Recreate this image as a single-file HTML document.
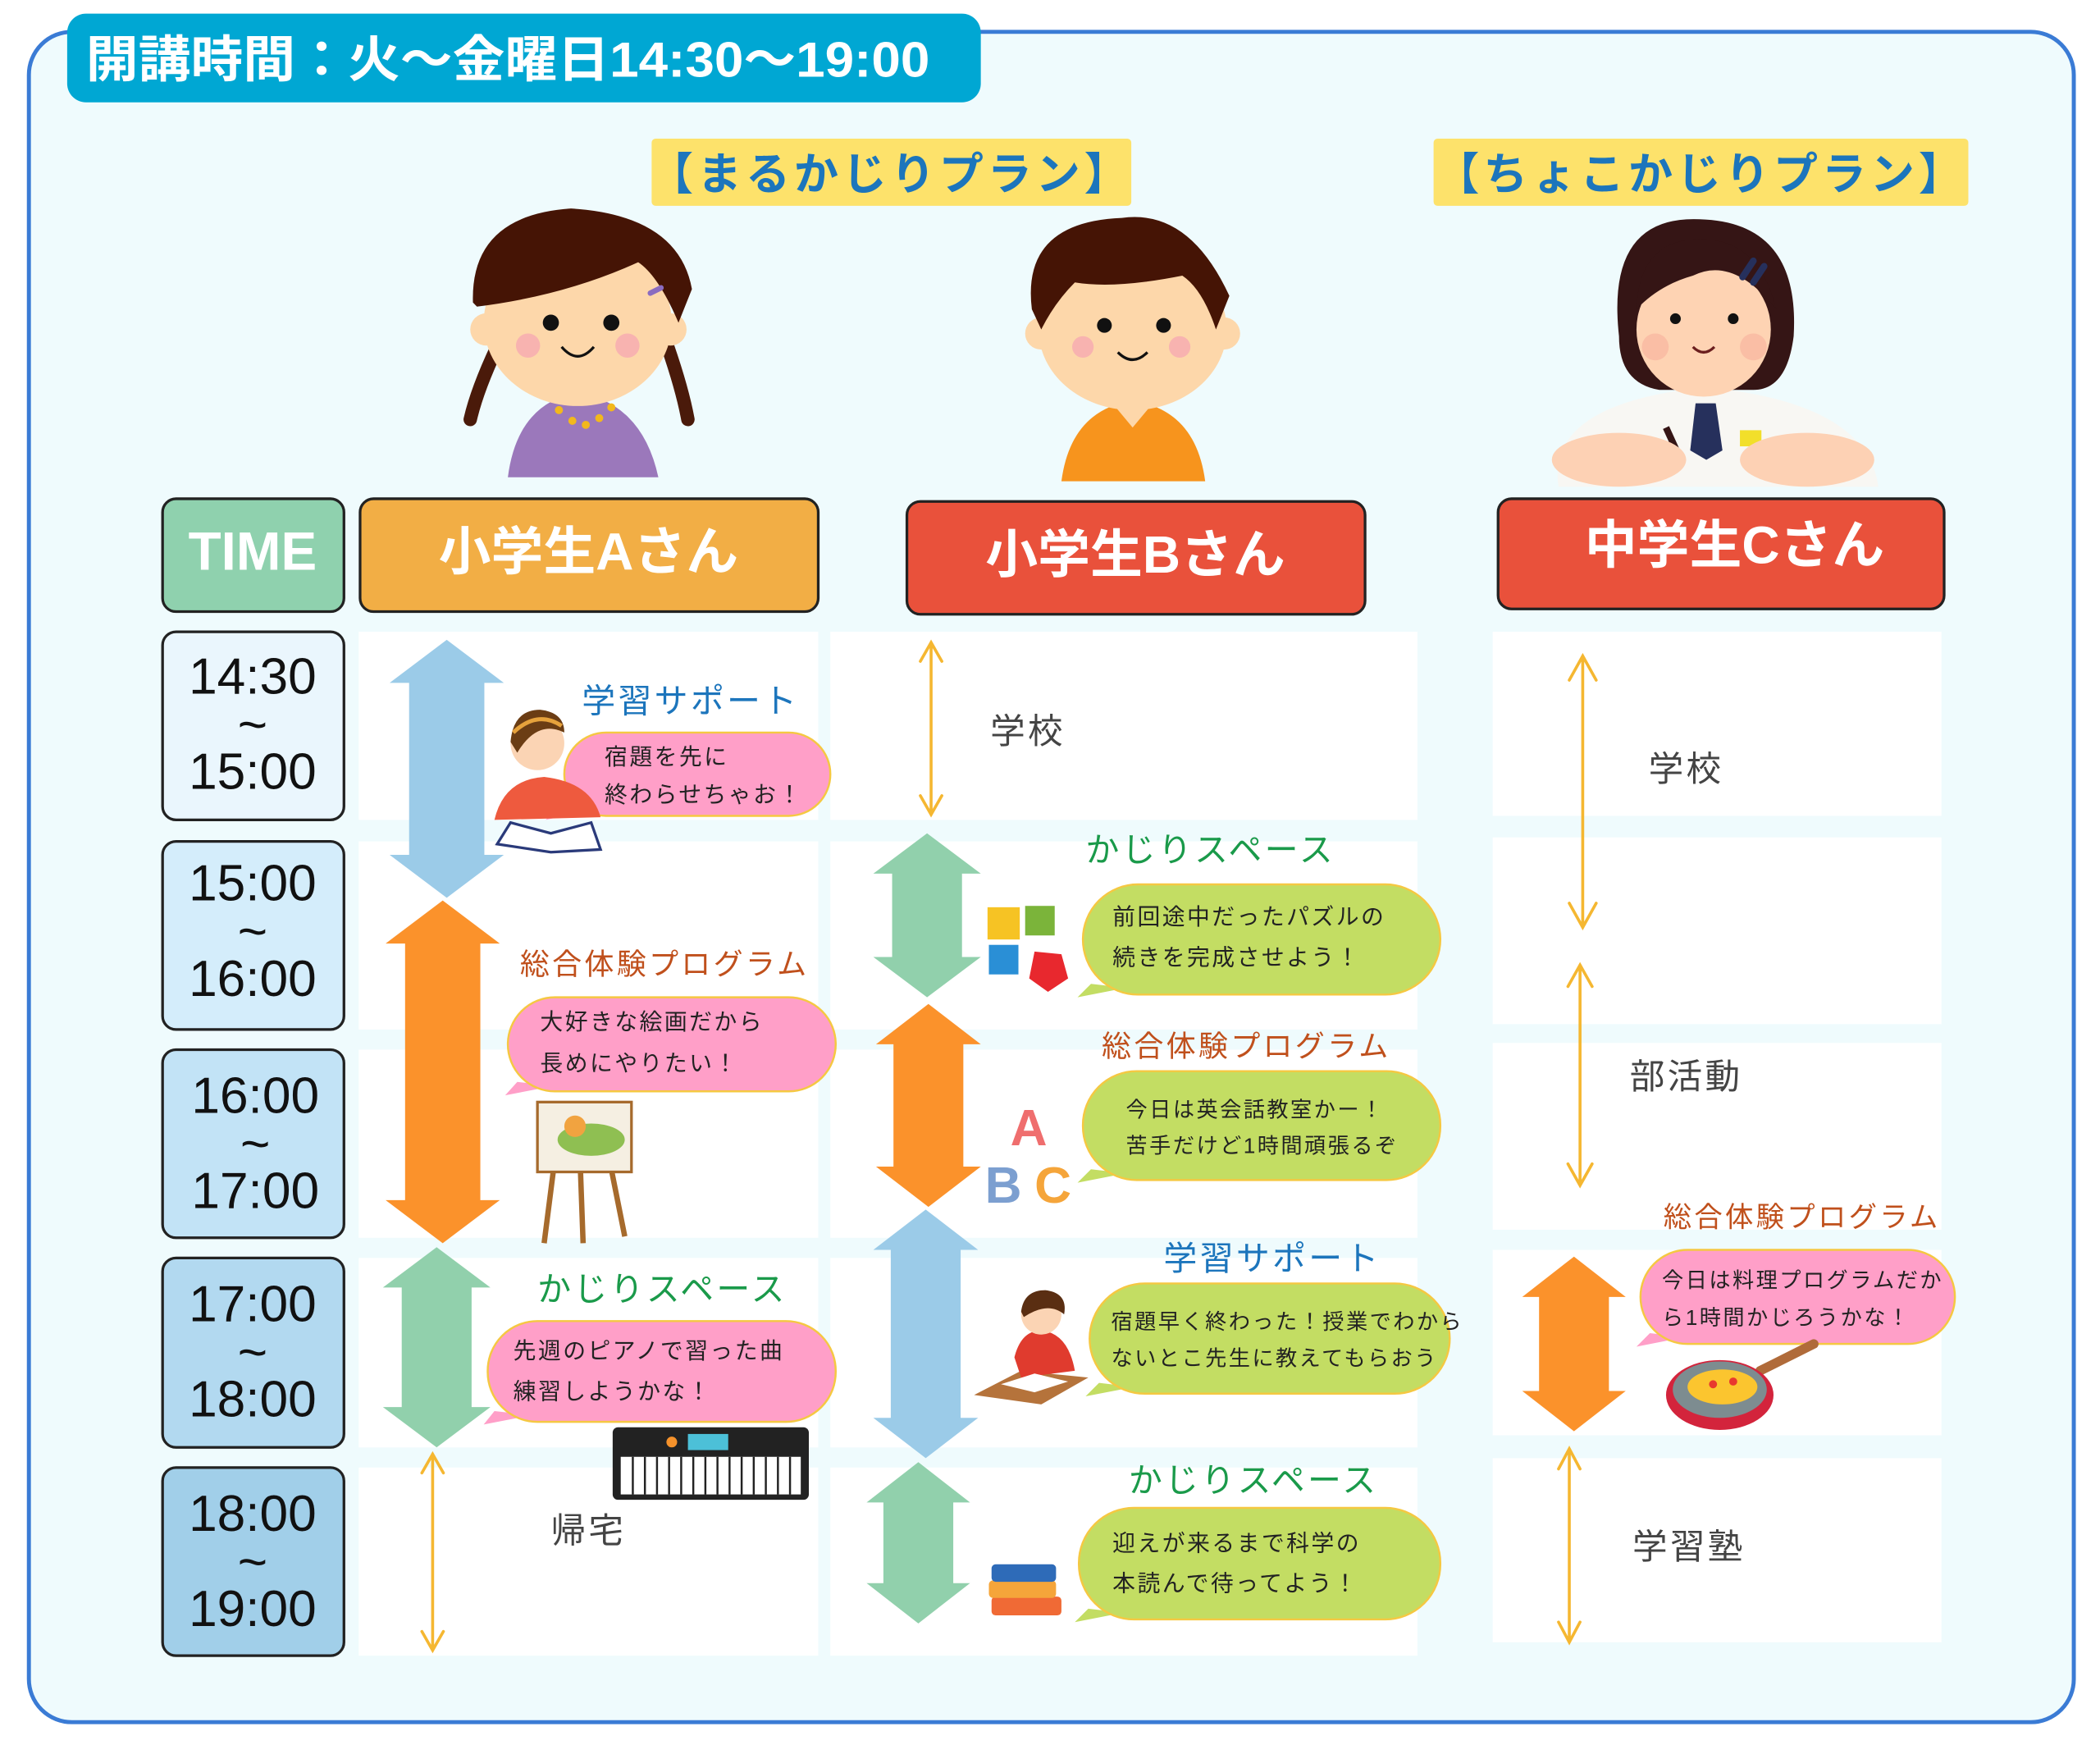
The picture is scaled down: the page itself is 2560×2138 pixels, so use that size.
<!DOCTYPE html>
<html><head><meta charset="utf-8"><style>
html,body{margin:0;padding:0;background:#fff;}
svg{display:block;}
text{font-family:"Liberation Sans","Noto Sans CJK JP",sans-serif;}
</style></head><body>
<svg width="2560" height="2138" viewBox="0 0 1563 1305" xmlns="http://www.w3.org/2000/svg">
<rect width="1563" height="1305" fill="#fff"/>
<rect x="21.5" y="23.5" width="1522" height="1258" rx="32" fill="#effbfd" stroke="#3a7bd5" stroke-width="3"/>
<!-- title -->
<rect x="50" y="10" width="680" height="66" rx="14" fill="#00a7d3"/>
<text x="64" y="57" font-size="37" font-weight="bold" fill="#fff" textLength="628" lengthAdjust="spacingAndGlyphs">開講時間：火〜金曜日14:30〜19:00</text>
<!-- plan labels -->
<rect x="485" y="103" width="357" height="50" rx="3" fill="#fde26b"/>
<text x="663" y="141" font-size="33" font-weight="bold" fill="#1c75bc" text-anchor="middle" letter-spacing="3">【まるかじりプラン】</text>
<rect x="1067" y="103" width="398" height="50" rx="3" fill="#fde26b"/>
<text x="1266" y="141" font-size="33" font-weight="bold" fill="#1c75bc" text-anchor="middle" letter-spacing="3">【ちょこかじりプラン】</text>

<!-- girl A -->
<g>
<path d="M378 355 Q385 300 430 292 Q478 300 490 355 Z" fill="#9b78bb"/>
<circle cx="416" cy="305" r="3" fill="#f2b81c"/><circle cx="426" cy="313" r="3" fill="#f2b81c"/><circle cx="436" cy="316" r="3" fill="#f2b81c"/><circle cx="446" cy="311" r="3" fill="#f2b81c"/><circle cx="455" cy="303" r="3" fill="#f2b81c"/>
<path d="M370 258 Q355 290 350 312" stroke="#4a1a0a" stroke-width="10" fill="none" stroke-linecap="round"/>
<path d="M497 258 Q508 290 512 312" stroke="#4a1a0a" stroke-width="10" fill="none" stroke-linecap="round"/>
<ellipse cx="430" cy="240" rx="70" ry="62" fill="#fdd7aa"/>
<circle cx="362" cy="245" r="12" fill="#fdd7aa"/><circle cx="499" cy="245" r="12" fill="#fdd7aa"/>
<path d="M352 225 Q350 160 425 155 Q505 160 515 215 L505 240 Q490 205 475 195 Q420 220 355 228 Z" fill="#451405"/>
<circle cx="410" cy="240" r="6" fill="#111"/><circle cx="455" cy="240" r="6" fill="#111"/>
<circle cx="393" cy="257" r="9" fill="#f8b3b0"/><circle cx="467" cy="257" r="9" fill="#f8b3b0"/>
<path d="M418 258 Q430 272 442 258" stroke="#111" stroke-width="2" fill="none"/>
<path d="M484 218 l8 -4" stroke="#8b6cc0" stroke-width="4" stroke-linecap="round"/>
</g>
<!-- boy B -->
<g>
<path d="M790 358 Q797 305 843 298 Q890 305 897 358 Z" fill="#f7941d"/>
<path d="M828 300 L843 318 L858 300 Z" fill="#fdd7aa"/>
<ellipse cx="843" cy="245" rx="70" ry="60" fill="#fdd7aa"/>
<circle cx="775" cy="248" r="12" fill="#fdd7aa"/><circle cx="911" cy="248" r="12" fill="#fdd7aa"/>
<path d="M768 230 Q760 165 835 162 Q885 155 915 220 L905 245 Q895 215 880 205 Q830 215 800 210 Q785 225 775 245 Z" fill="#451405"/>
<circle cx="822" cy="242" r="5.5" fill="#111"/><circle cx="866" cy="242" r="5.5" fill="#111"/>
<circle cx="806" cy="258" r="8" fill="#f8b3b0"/><circle cx="878" cy="258" r="8" fill="#f8b3b0"/>
<path d="M832 262 Q843 273 854 262" stroke="#111" stroke-width="2" fill="none"/>
</g>
<!-- girl C -->
<g>
<path d="M1160 362 Q1150 300 1270 288 Q1390 300 1398 362 Z" fill="#f8f7f3"/>
<path d="M1262 300 L1277 300 L1282 335 L1270 342 L1258 335 Z" fill="#26305c"/>
<rect x="1295" y="320" width="16" height="12" fill="#f2df2a"/>
<path d="M1240 318 L1250 340" stroke="#351515" stroke-width="5"/>
<ellipse cx="1205" cy="342" rx="50" ry="20" fill="#fdd1b4"/><ellipse cx="1345" cy="342" rx="50" ry="20" fill="#fdd1b4"/>
<path d="M1205 250 Q1195 160 1265 163 Q1340 165 1335 250 Q1330 290 1305 290 L1235 290 Q1205 285 1205 250 Z" fill="#351515"/>
<ellipse cx="1268" cy="245" rx="50" ry="50" fill="#fed3b3"/>
<path d="M1218 230 Q1220 175 1270 178 Q1310 180 1322 230 Q1290 190 1260 205 Q1235 212 1218 230 Z" fill="#351515"/>
<circle cx="1247" cy="237" r="4" fill="#111"/><circle cx="1290" cy="237" r="4" fill="#111"/>
<circle cx="1232" cy="258" r="10" fill="#f8b5a0" opacity=".7"/><circle cx="1305" cy="258" r="10" fill="#f8b5a0" opacity=".7"/>
<path d="M1260 258 Q1268 266 1276 258" stroke="#6b1e1e" stroke-width="2" fill="none"/>
<path d="M1297 206 l8 -12 M1305 210 l8 -12" stroke="#26305c" stroke-width="5" stroke-linecap="round"/>
</g>

<!-- headers -->
<rect x="121" y="371" width="135" height="84" rx="10" fill="#8fd1ae" stroke="#222" stroke-width="2"/>
<text x="188" y="424" font-size="40" font-weight="bold" fill="#fff" text-anchor="middle">TIME</text>
<rect x="268" y="371" width="341" height="84" rx="10" fill="#f2ae45" stroke="#222" stroke-width="2"/>
<text x="438" y="424" font-size="39" font-weight="bold" fill="#fff" text-anchor="middle">小学生Aさん</text>
<rect x="675" y="373" width="341" height="84" rx="10" fill="#e9513b" stroke="#222" stroke-width="2"/>
<text x="845" y="426" font-size="39" font-weight="bold" fill="#fff" text-anchor="middle">小学生Bさん</text>
<rect x="1115" y="371" width="332" height="82" rx="10" fill="#e9513b" stroke="#222" stroke-width="2"/>
<text x="1291" y="419" font-size="39" font-weight="bold" fill="#fff" text-anchor="middle">中学生Cさん</text>

<!-- time cells -->
<g stroke="#222" stroke-width="2">
<rect x="121" y="470" width="135" height="140" rx="10" fill="#eaf6fd"/>
<rect x="121" y="626" width="135" height="140" rx="10" fill="#d4edfb"/>
<rect x="121" y="781" width="135" height="140" rx="10" fill="#c2e3f6"/>
<rect x="121" y="936" width="135" height="141" rx="10" fill="#b2d9f0"/>
<rect x="121" y="1092" width="135" height="140" rx="10" fill="#a1cfe9"/>
</g>
<g font-size="38" fill="#111" text-anchor="middle">
<text x="188" y="516">14:30</text><text x="188" y="552">~</text><text x="188" y="587">15:00</text>
<text x="188" y="670">15:00</text><text x="188" y="706">~</text><text x="188" y="741">16:00</text>
<text x="190" y="828">16:00</text><text x="190" y="864">~</text><text x="190" y="899">17:00</text>
<text x="188" y="983">17:00</text><text x="188" y="1019">~</text><text x="188" y="1054">18:00</text>
<text x="188" y="1139">18:00</text><text x="188" y="1175">~</text><text x="188" y="1210">19:00</text>
</g>

<!-- white cells -->
<g fill="#fff">
<rect x="267" y="470" width="342" height="140"/><rect x="267" y="626" width="342" height="140"/><rect x="267" y="781" width="342" height="140"/><rect x="267" y="936" width="342" height="141"/><rect x="267" y="1092" width="342" height="140"/>
<rect x="618" y="470" width="437" height="140"/><rect x="618" y="626" width="437" height="140"/><rect x="618" y="781" width="437" height="140"/><rect x="618" y="936" width="437" height="141"/><rect x="618" y="1092" width="437" height="140"/>
<rect x="1111" y="470" width="334" height="137"/><rect x="1111" y="623" width="334" height="139"/><rect x="1111" y="776" width="334" height="139"/><rect x="1111" y="930" width="334" height="138"/><rect x="1111" y="1085" width="334" height="137"/>
</g>

<!-- thick arrows -->
<polygon fill="#9bcbe8" points="332.5,476 375,508 360.5,508 360.5,636 375,636 332.5,668 290,636 304.5,636 304.5,508 290,508"/>
<polygon fill="#fb922b" points="329.5,670 372,702 357.5,702 357.5,893 372,893 329.5,925 287,893 301.5,893 301.5,702 287,702"/>
<polygon fill="#91d0ac" points="325,928 365,958 351,958 351,1047 365,1047 325,1077 285,1047 299,1047 299,958 285,958"/>
<polygon fill="#91d0ac" points="690,620 730,650 716,650 716,712 730,712 690,742 650,712 664,712 664,650 650,650"/>
<polygon fill="#fb922b" points="691,747 730,777 717,777 717,868 730,868 691,898 652,868 665,868 665,777 652,777"/>
<polygon fill="#9bcbe8" points="689,900 728,930 715,930 715,1055 728,1055 689,1085 650,1055 663,1055 663,930 650,930"/>
<polygon fill="#91d0ac" points="683.5,1088 722,1118 709.5,1118 709.5,1178 722,1178 683.5,1208 645,1178 657.5,1178 657.5,1118 645,1118"/>
<polygon fill="#fb922b" points="1171.5,935 1210,965 1197.5,965 1197.5,1035 1210,1035 1171.5,1065 1133,1035 1145.5,1035 1145.5,965 1133,965"/>

<!-- thin arrows -->
<g stroke="#f5b731" stroke-width="2.2" fill="none" stroke-linecap="round">
<path d="M322 1082 V1228 M314 1096 L322 1082 L330 1096 M314 1214 L322 1228 L330 1214"/>
<path d="M693 478 V606 M685 492 L693 478 L701 492 M685 592 L693 606 L701 592"/>
<path d="M1178 488 V690 M1168 506 L1178 488 L1188 506 M1168 672 L1178 690 L1188 672"/>
<path d="M1176 718 V882 M1167 734 L1176 718 L1185 734 M1167 866 L1176 882 L1185 866"/>
<path d="M1168 1078 V1222 M1160 1093 L1168 1078 L1176 1093 M1160 1207 L1168 1222 L1176 1207"/>
</g>

<!-- section labels -->
<g font-size="25" letter-spacing="2">
<text x="433" y="530" fill="#1c75bc">学習サポート</text>
<text x="387" y="725" fill="#c0501c" font-size="22">総合体験プログラム</text>
<text x="400" y="968" fill="#1a9a4a">かじりスペース</text>
<text x="808" y="641" fill="#1a9a4a">かじりスペース</text>
<text x="820" y="786" fill="#c0501c" font-size="22">総合体験プログラム</text>
<text x="866" y="945" fill="#1c75bc">学習サポート</text>
<text x="840" y="1110" fill="#1a9a4a">かじりスペース</text>
<text x="1238" y="913" fill="#c0501c" font-size="21">総合体験プログラム</text>
</g>
<g font-size="26" fill="#444" letter-spacing="2">
<text x="410" y="1148">帰宅</text>
<text x="737" y="553">学校</text>
<text x="1227" y="581">学校</text>
<text x="1213" y="810">部活動</text>
<text x="1215" y="1160">学習塾</text>
</g>

<!-- bubbles -->
<g stroke="#f5c842" stroke-width="1.5">
<path d="M418 600 L406 610 L440 603 Z" fill="#ff9fc8" stroke="none"/>
<rect x="420" y="545" width="198" height="62" rx="31" fill="#ff9fc8"/>
<path d="M385 805 L376 815 L412 808 Z" fill="#ff9fc8" stroke="none"/>
<rect x="378" y="742" width="244" height="70" rx="35" fill="#ff9fc8"/>
<path d="M368 1050 L360 1060 L396 1053 Z" fill="#ff9fc8" stroke="none"/>
<rect x="363" y="983" width="259" height="75" rx="37" fill="#ff9fc8"/>
<path d="M812 732 L802 742 L838 735 Z" fill="#c3dd63" stroke="none"/>
<rect x="806" y="658" width="266" height="82" rx="41" fill="#c3dd63"/>
<path d="M812 870 L802 880 L838 873 Z" fill="#c3dd63" stroke="none"/>
<rect x="806" y="797" width="266" height="81" rx="40" fill="#c3dd63"/>
<path d="M818 1029 L808 1039 L844 1032 Z" fill="#c3dd63" stroke="none"/>
<rect x="811" y="955" width="268" height="82" rx="41" fill="#c3dd63"/>
<path d="M810 1197 L800 1207 L836 1200 Z" fill="#c3dd63" stroke="none"/>
<rect x="803" y="1122" width="269" height="83" rx="41" fill="#c3dd63"/>
<path d="M1228 992 L1218 1002 L1254 995 Z" fill="#ff9fc8" stroke="none"/>
<rect x="1221" y="930" width="234" height="70" rx="35" fill="#ff9fc8"/>
</g>
<g font-size="17" fill="#222" letter-spacing="1.5">
<text x="450" y="569">宿題を先に</text><text x="450" y="597">終わらせちゃお！</text>
<text x="402" y="766">大好きな絵画だから</text><text x="402" y="797">長めにやりたい！</text>
<text x="382" y="1011">先週のピアノで習った曲</text><text x="382" y="1041">練習しようかな！</text>
<text x="828" y="688">前回途中だったパズルの</text><text x="828" y="718">続きを完成させよう！</text>
<text x="838" y="831" font-size="16">今日は英会話教室かー！</text><text x="838" y="858" font-size="16">苦手だけど1時間頑張るぞ</text>
<text x="827" y="989" font-size="16">宿題早く終わった！授業でわから</text><text x="827" y="1016" font-size="16">ないとこ先生に教えてもらおう</text>
<text x="828" y="1154">迎えが来るまで科学の</text><text x="828" y="1184">本読んで待ってよう！</text>
<text x="1237" y="958" font-size="16">今日は料理プログラムだか</text><text x="1237" y="986" font-size="16">ら1時間かじろうかな！</text>
</g>

<!-- small icons -->
<g>
<path d="M368 610 Q375 580 405 578 Q440 582 447 608 Z" fill="#ee5a3e"/>
<circle cx="400" cy="553" r="20" fill="#fbd4b4"/>
<path d="M380 552 Q382 528 402 528 Q420 530 420 545 Q400 535 385 560 Z" fill="#6b3d14"/>
<path d="M382 545 Q400 528 418 540" stroke="#e6a23c" stroke-width="3" fill="none"/>
<path d="M370 628 L380 612 L410 620 L440 612 L447 632 L410 634 Z" fill="#fff" stroke="#2a3a7a" stroke-width="2"/>
</g>
<g>
<path d="M412 870 L405 925 M455 870 L465 920 M432 870 L434 925" stroke="#a66a2c" stroke-width="4"/>
<rect x="400" y="820" width="70" height="52" fill="#f5efe2" stroke="#a66a2c" stroke-width="2"/>
<ellipse cx="440" cy="848" rx="25" ry="12" fill="#8fbf52"/>
<circle cx="428" cy="838" r="8" fill="#f1a340"/>
</g>
<g>
<rect x="456" y="1062" width="146" height="54" rx="4" fill="#222"/>
<rect x="462" y="1084" width="134" height="28" fill="#fff"/>
<g stroke="#222" stroke-width="1.5"><path d="M471 1084v28M480 1084v28M489 1084v28M498 1084v28M507 1084v28M516 1084v28M525 1084v28M534 1084v28M543 1084v28M552 1084v28M561 1084v28M570 1084v28M579 1084v28M588 1084v28"/></g>
<rect x="512" y="1067" width="30" height="12" fill="#4cc0d8"/>
<circle cx="500" cy="1073" r="4" fill="#f5922b"/>
</g>
<g>
<rect x="735" y="675" width="24" height="24" fill="#f6c324"/>
<rect x="763" y="674" width="22" height="22" fill="#7bb43a"/>
<rect x="736" y="703" width="22" height="22" fill="#2a8fd6"/>
<polygon points="770,708 790,710 795,728 780,738 766,728" fill="#e8282e"/>
</g>
<g font-size="38" font-weight="bold">
<text x="752" y="852" fill="#ef6e6e">A</text>
<text x="733" y="895" fill="#7c9fd0">B</text>
<text x="770" y="895" fill="#f5a53a">C</text>
</g>
<g>
<path d="M725 1038 L760 1020 L810 1025 L775 1045 Z" fill="#b5733b"/>
<path d="M755 1010 Q760 990 775 990 Q795 992 800 1020 L760 1025 Z" fill="#e03b2e"/>
<circle cx="775" cy="978" r="15" fill="#fbd4b4"/>
<path d="M760 976 Q762 960 778 960 Q795 962 792 978 Q780 968 762 980 Z" fill="#5a2e12"/>
<path d="M745 1030 L770 1022 L795 1028 L770 1036 Z" fill="#fff"/>
</g>
<g>
<rect x="738" y="1188" width="52" height="14" rx="3" fill="#f06a35"/>
<rect x="736" y="1176" width="50" height="13" rx="3" fill="#f5a53a"/>
<rect x="738" y="1164" width="48" height="13" rx="3" fill="#2e6bb8"/>
</g>
<g>
<path d="M1310 1020 L1350 1000" stroke="#b06b3a" stroke-width="7" stroke-linecap="round"/>
<ellipse cx="1280" cy="1038" rx="40" ry="26" fill="#d3243c"/>
<ellipse cx="1280" cy="1034" rx="35" ry="21" fill="#7d8c90"/>
<ellipse cx="1282" cy="1032" rx="26" ry="13" fill="#fbc52f"/>
<circle cx="1275" cy="1030" r="3" fill="#e8382e"/><circle cx="1290" cy="1028" r="3" fill="#e8382e"/>
</g>
</svg>
</body></html>
